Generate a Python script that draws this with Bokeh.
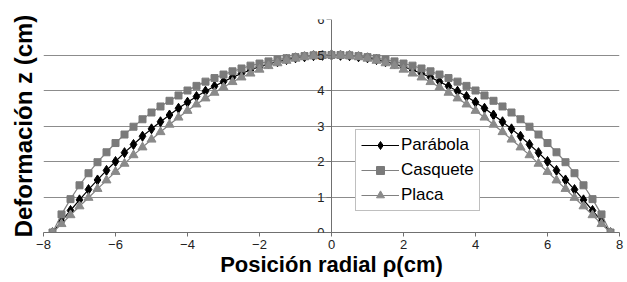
from bokeh.plotting import figure
from bokeh.models import Title, Legend, LegendItem, FixedTicker
from bokeh.embed import file_html
from bokeh.resources import INLINE

rho = [-7.75, -7.5, -7.25, -7.0, -6.75, -6.5, -6.25, -6.0, -5.75, -5.5, -5.25, -5.0,
       -4.75, -4.5, -4.25, -4.0, -3.75, -3.5, -3.25, -3.0, -2.75, -2.5, -2.25, -2.0,
       -1.75, -1.5, -1.25, -1.0, -0.75, -0.5, -0.25, 0.0,
       0.25, 0.5, 0.75, 1.0, 1.25, 1.5, 1.75, 2.0, 2.25, 2.5, 2.75, 3.0,
       3.25, 3.5, 3.75, 4.0, 4.25, 4.5, 4.75, 5.0, 5.25, 5.5, 5.75, 6.0,
       6.25, 6.5, 6.75, 7.0, 7.25, 7.5, 7.75]

parabola = [0.00, 0.32, 0.62, 0.92, 1.21, 1.48, 1.75, 2.00, 2.25, 2.48, 2.71, 2.92,
            3.12, 3.31, 3.50, 3.67, 3.83, 3.98, 4.12, 4.25, 4.37, 4.48, 4.58, 4.67,
            4.75, 4.81, 4.87, 4.92, 4.95, 4.98, 4.99, 5.00,
            4.99, 4.98, 4.95, 4.92, 4.87, 4.81, 4.75, 4.67, 4.58, 4.48, 4.37, 4.25,
            4.12, 3.98, 3.83, 3.67, 3.50, 3.31, 3.12, 2.92, 2.71, 2.48, 2.25, 2.00,
            1.75, 1.48, 1.21, 0.92, 0.62, 0.32, 0.00]

casquete = [0.00, 0.51, 0.94, 1.33, 1.67, 1.98, 2.26, 2.52, 2.76, 2.98, 3.19, 3.38,
            3.55, 3.71, 3.86, 4.00, 4.13, 4.25, 4.35, 4.45, 4.54, 4.62, 4.70, 4.76,
            4.82, 4.87, 4.91, 4.94, 4.97, 4.99, 5.00, 5.00,
            5.00, 4.99, 4.97, 4.94, 4.91, 4.87, 4.82, 4.76, 4.70, 4.62, 4.54, 4.45,
            4.35, 4.25, 4.13, 4.00, 3.86, 3.71, 3.55, 3.38, 3.19, 2.98, 2.76, 2.52,
            2.26, 1.98, 1.67, 1.33, 0.94, 0.51, 0.00]

placa = [0.00, 0.24, 0.49, 0.74, 0.98, 1.23, 1.47, 1.71, 1.94, 2.18, 2.40, 2.62,
         2.83, 3.04, 3.24, 3.43, 3.61, 3.78, 3.94, 4.09, 4.24, 4.37, 4.48, 4.59,
         4.69, 4.77, 4.84, 4.90, 4.94, 4.97, 4.99, 5.00,
         4.99, 4.97, 4.94, 4.90, 4.84, 4.77, 4.69, 4.59, 4.48, 4.37, 4.24, 4.09,
         3.94, 3.78, 3.61, 3.43, 3.24, 3.04, 2.83, 2.62, 2.40, 2.18, 1.94, 1.71,
         1.47, 1.23, 0.98, 0.74, 0.49, 0.24, 0.00]

x_ticks = [-8, -6, -4, -2, 0, 2, 4, 6, 8]
y_ticks = [0, 1, 2, 3, 4, 5, 6]
series_names = ["Parábola", "Casquete", "Placa"]
x_title = "Posición radial ρ(cm)"
y_title = "Deformación z (cm)"

FONT = "Liberation Sans"
GRID = "#8c8c8c"

p = figure(width=627, height=282, output_backend="svg", toolbar_location=None,
           x_range=(-8, 8), y_range=(0, 6),
           min_border_left=42, min_border_right=8, min_border_top=19, min_border_bottom=50)
p.outline_line_color = None
p.background_fill_color = "white"
p.border_fill_color = "white"

p.xgrid.grid_line_color = None
p.ygrid.grid_line_color = GRID
p.ygrid.grid_line_width = 1
p.ygrid.ticker = FixedTicker(ticks=y_ticks)

xa = p.xaxis[0]
xa.ticker = FixedTicker(ticks=x_ticks)
xa.axis_line_color = "#707070"
xa.major_tick_line_color = "#707070"
xa.major_tick_out = 4
xa.major_tick_in = 0
xa.minor_tick_line_color = None
xa.major_label_text_font = FONT
xa.major_label_text_font_size = "13px"
xa.major_label_text_color = "#222222"
xa.major_label_standoff = 3
xa.axis_label = x_title
xa.axis_label_text_font = FONT
xa.axis_label_text_font_style = "bold"
xa.axis_label_text_font_size = "22px"
xa.axis_label_text_color = "black"
xa.axis_label_standoff = 0

ya = p.yaxis[0]
ya.fixed_location = 0
ya.ticker = FixedTicker(ticks=y_ticks)
ya.axis_line_color = "#707070"
ya.major_tick_line_color = "#707070"
ya.major_tick_out = 5
ya.major_tick_in = 0
ya.minor_tick_line_color = None
ya.major_label_text_font = FONT
ya.major_label_text_font_size = "13px"
ya.major_label_text_color = "#222222"
ya.major_label_standoff = 2

ytitle = Title(text=y_title, align="center", offset=-16, standoff=14,
               text_font=FONT, text_font_style="bold", text_font_size="24px",
               text_color="black")
p.add_layout(ytitle, "left")

l1 = p.line(rho, parabola, line_color="black", line_width=1.2)
m1 = p.scatter(rho, parabola, marker="diamond", size=10, fill_color="black", line_color="black")
l2 = p.line(rho, casquete, line_color="#808080", line_width=1.2)
m2 = p.scatter(rho, casquete, marker="square", size=7, fill_color="#7a7a7a", line_color="#7a7a7a")
l3 = p.line(rho, placa, line_color="#808080", line_width=1.2)
m3 = p.scatter(rho, placa, marker="triangle", size=9, fill_color="#8a8a8a", line_color="#8a8a8a")

legend = Legend(items=[LegendItem(label=series_names[0], renderers=[l1, m1]),
                       LegendItem(label=series_names[1], renderers=[l2, m2]),
                       LegendItem(label=series_names[2], renderers=[l3, m3])],
                location=(312, 21), orientation="vertical")
legend.border_line_color = "#808080"
legend.border_line_width = 1
legend.background_fill_color = "white"
legend.background_fill_alpha = 1
legend.padding = 5
legend.margin = 0
legend.spacing = 5
legend.glyph_width = 38
legend.glyph_height = 20
legend.label_height = 20
legend.label_standoff = 2
legend.label_text_font = FONT
legend.label_text_font_size = "17px"
legend.label_text_color = "black"
p.add_layout(legend, "center")

open("out.html", "w").write(file_html(p, INLINE))
